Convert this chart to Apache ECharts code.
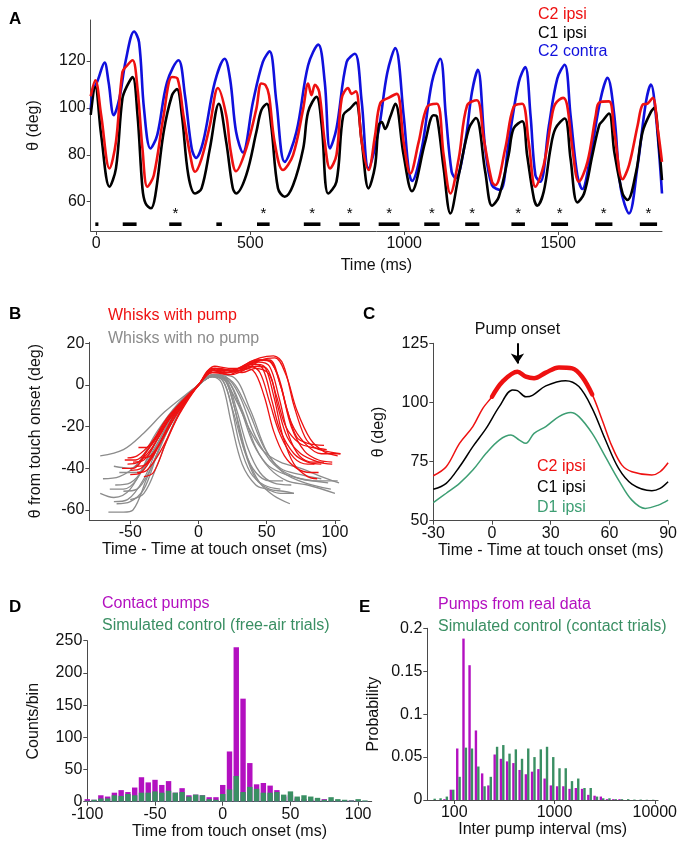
<!DOCTYPE html>
<html><head><meta charset="utf-8">
<script src="https://cdn.jsdelivr.net/npm/echarts@6/dist/echarts.min.js"></script>
<style>html,body{margin:0;padding:0;background:#fff}#c{width:680px;height:849px}</style>
</head><body><div id="c"></div>
<script>
// ---------- Panel A data ----------
const aC2contra = [[-18,99],[-11,106.8],[5,111.8],[27,119.3],[40,111],[57,96.9],[75,104],[96,120.3],[123,132.6],[139,128],[155,99.7],[176,82.7],[198,88.4],[230,111],[267,120.3],[288,105.4],[310,82.7],[324,78.7],[347,85.5],[385,111],[417,121],[435,112],[454,89.8],[476,81],[509,102.6],[541,119.6],[563,124.1],[585,102.6],[612,77],[650,89.8],[688,118.2],[721,127],[742,111],[759,82.7],[780,91.2],[813,119.6],[840,123.1],[862,102.6],[884,74.2],[916,89.8],[945,115],[971,125.5],[998,96.9],[1014,74.2],[1025,68.8],[1057,82.7],[1090,111],[1117,121],[1135,96.9],[1154,72.8],[1167,70],[1198,85.5],[1220,106.8],[1239,116.3],[1263,82.7],[1285,67],[1312,65],[1339,85.5],[1372,111],[1393,117.4],[1410,96.9],[1426,71.3],[1442,68.5],[1470,92.6],[1497,112.5],[1521,118.4],[1540,96.9],[1562,71.3],[1578,65.4],[1605,79.9],[1638,104],[1660,112.8],[1682,96.9],[1703,65.7],[1730,55],[1758,75.6],[1785,102.6],[1801,110],[1817,96.9],[1837,63.5]];
const aC2ipsi = [[-18,105],[-3,111.8],[16,96.9],[43,74.2],[64,85.5],[85,115.3],[101,118.2],[118,120.3],[134,108.2],[150,82.7],[166,66.4],[187,71.3],[219,96.9],[246,113.2],[264,112.5],[283,96.9],[305,79.9],[321,72.8],[342,78.4],[369,92.6],[395,108.5],[422,96.9],[436,82],[454,73],[487,82.7],[520,99.7],[536,110.4],[550,109.6],[561,105.4],[579,85.5],[606,73.5],[639,79.9],[672,99.7],[688,110.4],[699,105.4],[710,109.9],[724,106.8],[742,85.5],[759,74.2],[780,79.9],[797,104],[818,108.5],[829,106],[843,107.1],[862,85.5],[884,73.5],[905,88],[922,102],[949,104.3],[976,106],[998,85.5],[1020,72],[1047,85.5],[1074,100.4],[1106,101.8],[1128,79.9],[1150,63.5],[1177,78.4],[1204,101],[1236,103.3],[1258,87],[1285,68.5],[1296,67],[1328,82.7],[1355,100.4],[1383,101.8],[1404,85.5],[1426,66.4],[1453,75.6],[1480,96.9],[1491,101.8],[1516,104.3],[1529,101.1],[1546,82.7],[1567,68.5],[1595,77],[1622,96.9],[1633,102.3],[1665,102.8],[1682,89.8],[1709,69.6],[1730,75.6],[1758,92.6],[1774,101.4],[1790,101.8],[1807,104.3],[1823,91.2],[1837,77]];
const aC1ipsi = [[-18,97],[-3,108.9],[16,88.4],[43,66.4],[64,74.2],[85,104],[101,109.6],[118,113.2],[134,96.9],[150,65.7],[160,59.3],[178,57.2],[192,62.8],[219,89.8],[246,105.4],[262,108],[278,96.9],[299,71.3],[321,63.5],[342,65.7],[369,82.7],[398,101.8],[422,85.5],[443,66],[454,63.5],[487,71.3],[520,89.8],[536,99],[554,101.8],[568,92.6],[590,65.7],[612,62.1],[639,67],[672,82.7],[688,98.3],[715,104.7],[732,92.6],[753,63.5],[780,68.5],[802,96.9],[824,99.7],[843,102.3],[862,85.5],[884,65.7],[905,75],[917,92.6],[927,94],[938,91],[954,96],[971,101.8],[998,79.9],[1025,64.5],[1068,85.5],[1095,96.9],[1106,96.3],[1128,74.2],[1150,55],[1177,71.3],[1210,91.2],[1233,95.7],[1263,72.8],[1285,58.3],[1307,62],[1339,79.9],[1355,91.2],[1383,94.3],[1399,79.9],[1421,61.4],[1432,58.3],[1453,64.3],[1475,82.7],[1491,91.2],[1521,95.5],[1540,78.4],[1562,59.7],[1584,63.5],[1611,79.9],[1633,92.6],[1643,94.3],[1665,97.6],[1682,81.3],[1709,63.5],[1725,60.7],[1753,72.8],[1774,89.8],[1801,98.3],[1812,100],[1828,82.7],[1837,69.2]];
const pumpStart = [-3, 86, 237, 390, 522, 674, 789, 917, 1065, 1198, 1348, 1477, 1620, 1765];
const pumpEnd   = [7, 131, 277, 408, 563, 728, 856, 985, 1115, 1244, 1392, 1532, 1676, 1821];
const pumpStar  = [0, 0, 1, 0, 1, 1, 1, 1, 1, 1, 1, 1, 1, 1];
const aXTicks = [0, 500, 1000, 1500];
const aYTicks = [60, 80, 100, 120];

// ---------- Panel B data ----------
const bNoPump = [
 [[-72,-34],[-55,-31],[-40,-23],[-25,-13],[-10,-5],[0,0],[10,4],[18,3],[28,-8],[38,-22],[48,-32],[60,-37],[75,-40],[90,-44],[103,-47]],
 [[-70,-45],[-58,-44],[-45,-38],[-30,-22],[-15,-9],[0,0],[10,5],[18,4],[26,-10],[33,-30],[42,-45],[52,-50],[62,-51],[70,-52]],
 [[-72,-52],[-62,-54],[-50,-50],[-35,-32],[-18,-12],[0,0],[12,4.5],[20,2],[28,-15],[36,-35],[45,-47],[55,-53],[67,-57]],
 [[-66,-61],[-55,-61],[-48,-60],[-38,-45],[-25,-25],[-10,-7],[0,0],[10,4],[17,1],[24,-18],[32,-38],[42,-48],[50,-50],[60,-52],[70,-52]],
 [[-62,-56],[-52,-55],[-40,-45],[-28,-27],[-12,-9],[0,0],[10,4],[20,3],[30,-10],[40,-28],[50,-38],[60,-42],[75,-45],[95,-47]],
 [[-61,-48],[-50,-47],[-38,-38],[-25,-22],[-10,-6],[0,0],[12,5],[22,2],[32,-12],[42,-30],[52,-40],[65,-46],[80,-48],[100,-52]],
 [[-62,-39],[-50,-40],[-38,-32],[-25,-20],[-10,-6],[0,0],[10,5],[20,4],[30,-5],[42,-25],[55,-38],[70,-44],[85,-46],[102,-46]],
 [[-60,-57],[-50,-56],[-40,-50],[-30,-33],[-15,-12],[0,0],[10,4],[18,2],[26,-14],[34,-32],[42,-42],[52,-46],[62,-46]],
 [[-55,-51],[-45,-50],[-35,-40],[-22,-20],[-8,-5],[0,0],[11,5],[20,3],[28,-12],[36,-30],[45,-42],[55,-47],[68,-48]],
 [[-58,-42],[-45,-42],[-32,-30],[-20,-16],[-8,-5],[0,0],[10,4],[22,3],[35,-10],[48,-30],[60,-40],[75,-43],[90,-45]],
 [[-50,-55],[-40,-52],[-30,-38],[-18,-18],[-6,-4],[0,0],[10,4],[18,2],[24,-10],[30,-28],[38,-42],[48,-48],[60,-50]],
 [[-65,-50],[-55,-50],[-45,-45],[-32,-28],[-15,-10],[0,0],[12,5],[25,4],[38,-12],[50,-32],[62,-42],[78,-47],[97,-50]]
];
const bPump = [
 [[-52,-35],[-45,-34],[-35,-28],[-20,-14],[-8,-5],[0,0],[8,6],[15,8],[25,7],[35,10],[45,13],[55,14],[62,10],[70,-10],[78,-25],[85,-30],[95,-32],[104,-33]],
 [[-56,-40],[-48,-40],[-38,-32],[-22,-15],[0,0],[10,7],[20,6],[32,9],[42,12],[52,12],[60,0],[68,-20],[78,-32],[88,-36],[98,-37]],
 [[-50,-43],[-42,-42],[-30,-30],[-15,-11],[0,0],[12,8],[22,6],[30,7],[40,10],[48,9],[55,-5],[62,-25],[70,-38],[80,-44],[87,-45]],
 [[-48,-37],[-40,-36],[-30,-26],[-15,-10],[0,0],[10,7],[20,7],[30,8],[40,11],[50,12],[58,5],[65,-12],[72,-25],[80,-28],[92,-29]],
 [[-44,-30],[-38,-30],[-28,-22],[-14,-10],[0,0],[12,8],[22,7],[32,6],[42,8],[52,5],[58,-10],[65,-25],[75,-33],[88,-37],[98,-38]],
 [[-52,-38],[-44,-37],[-34,-30],[-20,-15],[0,0],[11,7],[20,6],[30,8],[40,10],[47,8],[54,-8],[60,-22],[70,-33],[80,-37],[90,-38]],
 [[-40,-44],[-33,-42],[-24,-28],[-12,-11],[0,0],[10,8],[20,7],[30,7],[38,9],[45,6],[52,-8],[60,-24],[70,-35],[80,-38],[85,-38]],
 [[-50,-41],[-42,-40],[-32,-32],[-18,-15],[0,0],[10,7],[22,5],[35,9],[45,12],[53,11],[60,0],[68,-18],[78,-28],[90,-33],[104,-33]],
 [[-46,-39],[-38,-38],[-28,-28],[-15,-13],[0,0],[12,9],[22,8],[32,8],[40,7],[48,-5],[55,-22],[63,-34],[72,-40],[82,-42],[88,-42]],
 [[-42,-35],[-35,-34],[-25,-24],[-12,-10],[0,0],[10,6],[20,6],[32,7],[42,9],[50,8],[57,-5],[64,-20],[74,-28],[84,-30],[94,-31]],
 [[-54,-36],[-46,-36],[-36,-30],[-22,-17],[0,0],[10,6],[24,5],[36,8],[46,12],[56,13],[64,5],[72,-12],[82,-26],[92,-32],[102,-34]],
 [[-45,-42],[-38,-41],[-28,-32],[-14,-14],[0,0],[12,8],[24,7],[34,9],[44,11],[52,9],[59,-6],[66,-24],[74,-34],[84,-37],[92,-37]]
];
const bXTicks = [-50, 0, 50, 100];
const bYTicks = [-60, -40, -20, 0, 20];

// ---------- Panel C data ----------
const cC2ipsi = [[-30,69],[-23.4,72.8],[-16.6,82.7],[-9.8,89.8],[-4.7,97.5],[0,102.4],[5.4,108.8],[13,113],[17.3,110.9],[21.5,110.2],[27.5,112.6],[34.2,114.8],[41,114.4],[46,110.9],[51.2,103.4],[56.3,92.6],[61.4,81.3],[66.4,73.5],[71.5,70.7],[81.7,69.3],[85.9,70.7],[90,74.5]];
const cC1ipsi = [[-30,63.3],[-23.4,65.8],[-16.6,72.8],[-9.8,81.3],[-3,89],[3.7,98.2],[10.5,105.3],[13,105],[17.3,102.4],[20.7,103],[27.5,107],[37.6,109.2],[44.4,106.7],[51.2,97.5],[58,84.1],[64.7,72.1],[71.5,65.5],[81.7,62.7],[85.9,63.7],[90,66.5]];
const cD1ipsi = [[-30,57.6],[-23.4,61.6],[-16.6,65.8],[-9.8,71.4],[-3,78.5],[3.7,84.1],[9.7,86.2],[14,84.1],[17.3,82.7],[21.5,86.9],[27.5,89.8],[34.2,94],[40.2,95.7],[44.4,94],[51.2,86.9],[58,77],[64.7,67.2],[71.5,58.7],[78.3,55.2],[85,56.6],[90,58.7]];
const cPumpWindow = [0, 51.2];
const cPumpOnset = 13;
const cXTicks = [-30, 0, 30, 60, 90];
const cYTicks = [50, 75, 100, 125];

// ---------- Panel D data ----------
const dBins = [-100,-95,-90,-85,-80,-75,-70,-65,-60,-55,-50,-45,-40,-35,-30,-25,-20,-15,-10,-5,0,5,10,15,20,25,30,35,40,45,50,55,60,65,70,75,80,85,90,95,100,105];
const dContact = [4,3,10,8,14,18,15,22,38,30,34,26,32,14,21,10,11,10,7,7,26,78,240,160,60,27,29,25,18,8,10,5,4,3,3,4,2,2,2,2,2,1];
const dSimulated = [1.5,3,5,5,10,9,12,10,14,14,16,14,17,14,15,8,11,10,4,3,12,19,40,15,23,20,14,14,15,11,16,8,10,8,6,3,7,4,3,2,4,2];
const dXTicks = [-100, -50, 0, 50, 100];
const dYTicks = [0, 50, 100, 150, 200, 250];

// ---------- Panel E data ----------
const eBins = [62,71,82,95,110,127,146,169,195,225,260,300,346,400,461,532,614,710,819,945,1091,1259,1453,1678,1937,2235,2580,2978,3437,3967,4580,5285,6100,7040,8120,9370];
const eReal = [0,0,0.001,0.012,0.06,0.188,0.157,0.081,0.031,0.017,0.053,0.048,0.045,0.043,0.035,0.030,0.033,0.036,0.025,0.017,0.016,0.016,0.013,0.014,0.013,0.006,0.005,0.004,0.001,0.001,0.001,0,0,0,0,0];
const eSimulated = [0.0015,0.002,0.004,0.012,0.027,0.061,0.060,0.039,0.016,0.027,0.062,0.064,0.054,0.059,0.048,0.060,0.050,0.059,0.062,0.050,0.037,0.037,0.022,0.025,0.014,0.014,0.004,0.002,0.002,0.001,0.001,0.001,0.0005,0.0005,0.0003,0.0003];
const eXTicks = [100, 1000, 10000];
const eYTicks = [0, 0.05, 0.1, 0.15, 0.2];

// ---------- styling ----------
const FF = '"Liberation Sans", Arial, Helvetica, sans-serif';
const RED = '#ee1111', BLUE = '#1010dd', BLACK = '#000000', GRAY = '#8c8c8c';
const DGREEN = '#3a8f63', CGREEN = '#3d9e73', MAG = '#b310c0';
const AX = '#4a4a4a';

function axisBase(gridIndex, min, max, ticks, extra) {
  return Object.assign({
    type: 'value', gridIndex, min, max,
    axisLine: { show: true, onZero: false, lineStyle: { color: AX, width: 1 } },
    axisTick: { show: true, length: 4, customValues: ticks, lineStyle: { color: AX, width: 1 } },
    axisLabel: { show: true, customValues: ticks, color: '#111', fontSize: 16, fontFamily: FF, margin: 5,
      formatter: function (v) { return String(v); } },
    splitLine: { show: false },
    nameTextStyle: { color: '#111', fontSize: 16, fontFamily: FF },
    nameLocation: 'middle'
  }, extra || {});
}

const series = [];
function line(xi, data, color, width, z) {
  series.push({ type: 'line', xAxisIndex: xi, yAxisIndex: xi, data, showSymbol: false, symbol: 'none',
    smooth: 0.35, lineStyle: { color, width }, itemStyle: { color }, z: z || 2, silent: true, animation: false });
}

// Panel A
line(0, aC2contra, BLUE, 2.6, 2);
line(0, aC1ipsi, BLACK, 2.6, 3);
line(0, aC2ipsi, RED, 2.6, 4);
const pumpData = pumpStart.map((s, i) => [s, pumpEnd[i], 50.4, pumpStar[i]]);
series.push({
  type: 'custom', xAxisIndex: 0, yAxisIndex: 0, data: pumpData, silent: true,
  encode: { x: [0, 1], y: 2 },
  renderItem: function (params, api) {
    const p1 = api.coord([api.value(0), api.value(2)]);
    const p2 = api.coord([api.value(1), api.value(2)]);
    const children = [{ type: 'rect', shape: { x: p1[0], y: p1[1] - 1.8, width: Math.max(p2[0] - p1[0], 3), height: 3.6 }, style: { fill: '#000' } }];
    if (api.value(3) === 1) {
      const pc = api.coord([(api.value(0) + api.value(1)) / 2, 54.6]);
      children.push({ type: 'text', x: pc[0], y: pc[1], style: { text: '*', fill: '#000', font: '15px ' + FF, align: 'center', verticalAlign: 'middle' } });
    }
    return { type: 'group', children };
  }
});

// Panel B
bNoPump.forEach(d => line(1, d, GRAY, 1.3, 2));
bPump.forEach(d => line(1, d, RED, 1.3, 3));

// Panel C
line(2, cD1ipsi, CGREEN, 1.5, 2);
line(2, cC1ipsi, BLACK, 1.5, 3);
line(2, cC2ipsi, RED, 1.5, 4);
series.push({ type: 'line', xAxisIndex: 2, yAxisIndex: 2,
  data: cC2ipsi.filter(p => p[0] >= cPumpWindow[0] && p[0] <= cPumpWindow[1]),
  showSymbol: false, smooth: 0.35, lineStyle: { color: RED, width: 4.5, cap: 'round' }, z: 5, silent: true,
  markLine: { silent: true, symbol: ['none', 'arrow'], symbolSize: 10,
    lineStyle: { color: '#000', width: 2, type: 'solid' },
    label: { show: true, position: 'start', formatter: 'Pump onset', color: '#111', fontSize: 16, fontFamily: FF, distance: 6 },
    data: [[{ coord: [cPumpOnset, 125] }, { coord: [cPumpOnset, 116.5] }]] }
});

// Panel D
series.push({ type: 'bar', xAxisIndex: 3, yAxisIndex: 3, data: dBins.map((b, i) => [b, dContact[i]]),
  barWidth: 5.4, barGap: '-100%', itemStyle: { color: MAG }, silent: true, z: 2 });
series.push({ type: 'bar', xAxisIndex: 3, yAxisIndex: 3, data: dBins.map((b, i) => [b, dSimulated[i]]),
  barWidth: 5.4, barGap: '-100%', itemStyle: { color: DGREEN }, silent: true, z: 3 });

// Panel E
function eBar(offset, width, color) {
  return function (params, api) {
    const p = api.coord([api.value(0), api.value(1)]);
    const p0 = api.coord([api.value(0), 0]);
    return { type: 'rect', shape: { x: p[0] + offset - width / 2, y: p[1], width, height: p0[1] - p[1] }, style: { fill: color } };
  };
}
series.push({ type: 'custom', xAxisIndex: 4, yAxisIndex: 4, data: eBins.map((b, i) => [b, eReal[i]]), renderItem: eBar(-1.2, 2.4, MAG), silent: true, z: 2 });
series.push({ type: 'custom', xAxisIndex: 4, yAxisIndex: 4, data: eBins.map((b, i) => [b, eSimulated[i]]), renderItem: eBar(1.2, 2.4, DGREEN), silent: true, z: 3 });

function txt(text, left, top, color, size, weight) {
  return { text, left, top, textStyle: { color, fontSize: size || 16, fontFamily: FF, fontWeight: weight || 'normal' } };
}

const option = {
  animation: false,
  backgroundColor: '#fff',
  title: [
    txt('A', 4, 6, '#000', 17, 'bold'),
    txt('C2 ipsi', 533, 2, RED), txt('C1 ipsi', 533, 21, BLACK), txt('C2 contra', 533, 39, BLUE),
    txt('B', 4, 301, '#000', 17, 'bold'),
    txt('Whisks with pump', 103, 303, RED), txt('Whisks with no pump', 103, 326, GRAY),
    txt('C', 358, 301, '#000', 17, 'bold'),
    txt('C2 ipsi', 532, 454, RED), txt('C1 ipsi', 532, 475, BLACK), txt('D1 ipsi', 532, 495, CGREEN),
    txt('D', 4, 594, '#000', 17, 'bold'),
    txt('Contact pumps', 97, 591, MAG), txt('Simulated control (free-air trials)', 97, 613, DGREEN),
    txt('E', 354, 594, '#000', 17, 'bold'),
    txt('Pumps from real data', 433, 592, MAG), txt('Simulated control (contact trials)', 433, 614, DGREEN)
  ],
  grid: [
    { left: 90.7, top: 20, width: 571.3, height: 211 },
    { left: 89.3, top: 342.3, width: 250.7, height: 177.7 },
    { left: 433.3, top: 343.3, width: 236, height: 177.4 },
    { left: 87.3, top: 640.7, width: 284.4, height: 161 },
    { left: 427.3, top: 628.3, width: 231, height: 171.7 }
  ],
  xAxis: [
    axisBase(0, -18, 1837, aXTicks, { name: 'Time (ms)', nameGap: 27 }),
    axisBase(1, -80, 103.7, bXTicks, { name: 'Time - Time at touch onset (ms)', nameGap: 21 }),
    axisBase(2, -30, 90, cXTicks, { name: 'Time - Time at touch onset (ms)', nameGap: 21 }),
    axisBase(3, -100, 110, dXTicks, { name: 'Time from touch onset (ms)', nameGap: 18 }),
    Object.assign(axisBase(4, 53.8, 10800, eXTicks, { name: 'Inter pump interval (ms)', nameGap: 19 }), { type: 'log', logBase: 10 })
  ],
  yAxis: [
    axisBase(0, 47.5, 137.5, aYTicks, { name: 'θ (deg)', nameGap: 49 }),
    axisBase(1, -64.8, 20.5, bYTicks, { name: 'θ from touch onset (deg)', nameGap: 46 }),
    axisBase(2, 50, 125, cYTicks, { name: 'θ (deg)', nameGap: 47 }),
    axisBase(3, 0, 250, dYTicks, { name: 'Counts/bin', nameGap: 46 }),
    axisBase(4, 0, 0.2, eYTicks, { name: 'Probability', nameGap: 46 })
  ],
  series
};
const chart = echarts.init(document.getElementById('c'), null, { renderer: 'canvas' });
chart.setOption(option);
</script></body></html>
